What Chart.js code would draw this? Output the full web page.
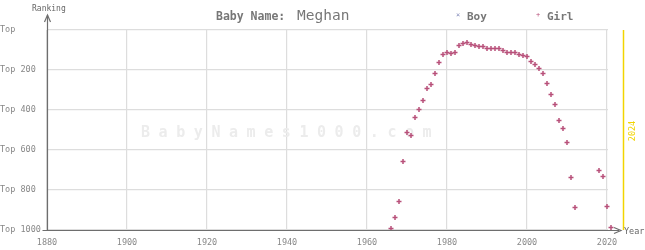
<!DOCTYPE html>
<html>
<head>
<meta charset="utf-8">
<script src="https://cdn.jsdelivr.net/npm/chart.js@4.4.1/dist/chart.umd.min.js"></script>
<style>
  html, body { margin: 0; padding: 0; background: #fff; }
  #wrap { width: 645px; height: 250px; }
</style>
</head>
<body>
<div id="wrap"><canvas id="chart" width="645" height="250"></canvas></div>
<script>
// Meghan, girls rank per year (years missing = not in top 1000)
const girlYears = [1966, 1967, 1968, 1969, 1970, 1971, 1972, 1973, 1974, 1975,
  1976, 1977, 1978, 1979, 1980, 1981, 1982, 1983, 1984, 1985,
  1986, 1987, 1988, 1989, 1990, 1991, 1992, 1993, 1994, 1995,
  1996, 1997, 1998, 1999, 2000, 2001, 2002, 2003, 2004, 2005,
  2006, 2007, 2008, 2009, 2010, 2011, 2012, 2018, 2019, 2020, 2021];
const girlRanks = [992, 937, 857, 657, 512, 527, 437, 397, 352, 292,
  272, 217, 162, 122, 112, 117, 112, 77, 67, 62,
  72, 77, 82, 82, 92, 92, 92, 92, 102, 112,
  112, 112, 122, 127, 132, 157, 172, 192, 217, 267,
  322, 372, 452, 492, 562, 737, 887, 702, 732, 882, 987];
const boyYears = [];
const boyRanks = [];
const yTicks = [0, 200, 400, 600, 800, 1000];
const xTicks = [1880, 1900, 1920, 1940, 1960, 1980, 2000, 2020];
const currentYear = 2024;
const babyName = 'Meghan';

const girlColor = '#b8507a';
const boyColor = '#8088b8';
const mono = '"DejaVu Sans Mono", monospace';

const girlData = girlYears.map((y, i) => ({ x: y, y: girlRanks[i] }));
const boyData = boyYears.map((y, i) => ({ x: y, y: boyRanks[i] }));
const lastGridYear = xTicks[xTicks.length - 1];

// axes, arrows, yellow current-year line, title and legend
const decorations = {
  id: 'decorations',
  beforeDatasetsDraw(chart) {
    const ctx = chart.ctx;
    const area = chart.chartArea;
    const xs = chart.scales.x;
    ctx.save();
    // grid stops at the last tick year, the strip up to the current year stays empty
    const gx = Math.round(xs.getPixelForValue(lastGridYear)) + 1;
    ctx.fillStyle = '#fff';
    ctx.fillRect(gx, area.top - 2, area.right - gx + 2, area.bottom - area.top + 4);
    // watermark
    ctx.fillStyle = '#ececec';
    ctx.font = 'bold 15px ' + mono;
    ctx.textBaseline = 'middle';
    const mark = 'BabyNames1000.com';
    for (let i = 0; i < mark.length; i++) {
      ctx.fillText(mark[i], 141 + i * 17.6, (area.top + area.bottom) / 2 + 3);
    }
    ctx.restore();
  },
  afterDraw(chart) {
    const ctx = chart.ctx;
    const area = chart.chartArea;
    const xs = chart.scales.x;
    ctx.save();

    // yellow line for current year
    const yx = Math.round(xs.getPixelForValue(currentYear)) + 0.5;
    ctx.strokeStyle = '#f2d400';
    ctx.lineWidth = 1.5;
    ctx.beginPath();
    ctx.moveTo(yx, area.top);
    ctx.lineTo(yx, area.bottom);
    ctx.stroke();
    ctx.save();
    ctx.translate(yx + 9, 131);
    ctx.rotate(-Math.PI / 2);
    ctx.fillStyle = '#f2d400';
    ctx.font = '8.5px ' + mono;
    ctx.textAlign = 'center';
    ctx.textBaseline = 'middle';
    ctx.fillText(String(currentYear), 0, 0);
    ctx.restore();

    // axes
    ctx.strokeStyle = '#6e6e6e';
    ctx.lineWidth = 1.2;
    const ax = area.left + 0.5;
    const ay = area.bottom + 0.5;
    ctx.beginPath();
    ctx.moveTo(ax, 15);
    ctx.lineTo(ax, ay);
    ctx.moveTo(ax - 5, ay);
    ctx.lineTo(619, ay);
    ctx.stroke();
    // y arrow
    ctx.beginPath();
    ctx.moveTo(ax - 3, 22);
    ctx.lineTo(ax, 15);
    ctx.lineTo(ax + 3, 22);
    ctx.stroke();
    // x arrow
    ctx.beginPath();
    ctx.moveTo(614, ay - 3);
    ctx.lineTo(621, ay);
    ctx.lineTo(614, ay + 3);
    ctx.stroke();

    ctx.fillStyle = '#666';
    ctx.font = '8px ' + mono;
    ctx.textBaseline = 'middle';
    ctx.textAlign = 'left';
    ctx.fillText('Ranking', 32, 9);
    ctx.font = '8.5px ' + mono;
    ctx.fillText('Year', 624, ay + 1);

    // title
    ctx.fillStyle = '#777';
    ctx.font = 'bold 11.5px ' + mono;
    ctx.fillText('Baby Name:', 216, 17);
    ctx.font = '14.5px ' + mono;
    ctx.fillText(babyName, 297, 16);

    // legend
    ctx.fillStyle = boyColor;
    ctx.font = '7px ' + mono;
    ctx.fillText('\u00d7', 456, 15);
    ctx.fillStyle = '#777';
    ctx.font = 'bold 11px ' + mono;
    ctx.fillText('Boy', 467, 17);
    ctx.fillStyle = girlColor;
    ctx.font = '7px ' + mono;
    ctx.fillText('+', 536, 15);
    ctx.fillStyle = '#777';
    ctx.font = 'bold 11px ' + mono;
    ctx.fillText('Girl', 547, 17);
    ctx.restore();
  }
};

new Chart(document.getElementById('chart'), {
  type: 'scatter',
  data: {
    datasets: [
      {
        label: 'Boy',
        data: boyData,
        pointStyle: 'crossRot',
        pointRadius: 2.5,
        borderColor: boyColor,
        borderWidth: 1.5,
        clip: false
      },
      {
        label: 'Girl',
        data: girlData,
        pointStyle: 'cross',
        pointRadius: 2.5,
        pointHoverRadius: 2.5,
        borderColor: girlColor,
        backgroundColor: girlColor,
        borderWidth: 1.5,
        clip: false
      }
    ]
  },
  options: {
    responsive: false,
    animation: false,
    devicePixelRatio: 1,
    layout: { padding: { top: 30, right: 22, left: 0, bottom: 0 } },
    plugins: {
      legend: { display: false },
      title: { display: false },
      tooltip: { enabled: false }
    },
    scales: {
      x: {
        type: 'linear',
        min: xTicks[0],
        max: currentYear,
        afterBuildTicks: (scale) => { scale.ticks = xTicks.map(v => ({ value: v })); },
        afterFit: (scale) => { scale.height = 20; },
        border: { display: false },
        grid: { color: '#dddddd', lineWidth: 1.2, drawTicks: false },
        ticks: {
          padding: 8,
          color: '#888',
          font: { family: mono, size: 8.5 },
          maxRotation: 0,
          callback: (v) => String(v)
        }
      },
      y: {
        type: 'linear',
        reverse: true,
        min: yTicks[0],
        max: yTicks[yTicks.length - 1],
        afterBuildTicks: (scale) => { scale.ticks = yTicks.map(v => ({ value: v })); },
        afterFit: (scale) => { scale.width = 47; },
        border: { display: false },
        grid: { color: '#dddddd', lineWidth: 1.2, drawTicks: false },
        ticks: {
          padding: 0,
          crossAlign: 'far',
          color: '#888',
          font: { family: mono, size: 8.5 },
          callback: (v) => v === 0 ? 'Top' : 'Top ' + v
        }
      }
    }
  },
  plugins: [decorations]
});
</script>
</body>
</html>
